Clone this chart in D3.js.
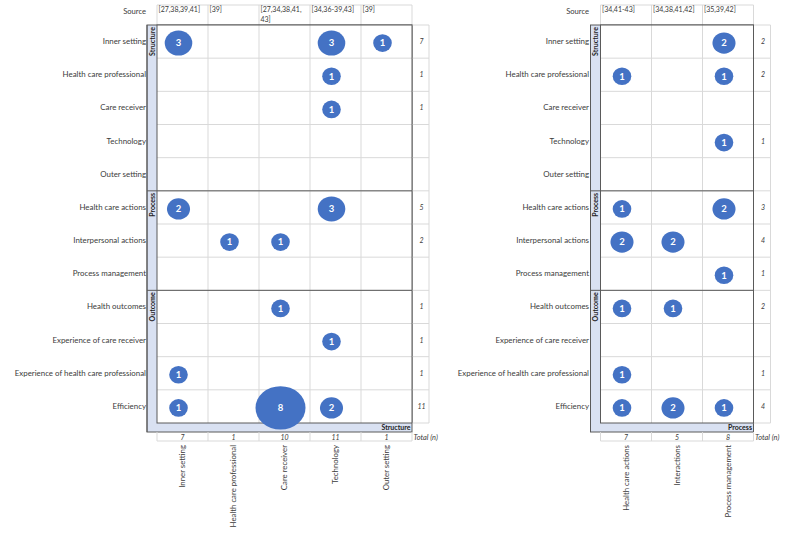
<!DOCTYPE html>
<html><head><meta charset="utf-8">
<script src="https://cdn.jsdelivr.net/npm/d3@7"></script>
<style>
html,body{margin:0;padding:0;background:#fff;}
svg{display:block;font-family:Lato, "Open Sans", sans-serif;}
</style></head>
<body>
<svg id="chart" width="789" height="534"></svg>
<script>
// ---------- DATA ----------
const rowLabels = ["Inner setting","Health care professional","Care receiver","Technology","Outer setting",
  "Health care actions","Interpersonal actions","Process management",
  "Health outcomes","Experience of care receiver","Experience of health care professional","Efficiency"];
const sections = [
  {name:"Structure", from:0, to:4},
  {name:"Process", from:5, to:7},
  {name:"Outcome", from:8, to:11}
];
// left panel (Structure)
const leftColumns = ["Inner setting","Health care professional","Care receiver","Technology","Outer setting"];
const leftSources = [["[27,38,39,41]"],["[39]"],["[27,34,38,41,","43]"],["[34,36-39,43]"],["[39]"]];
const leftValues = [ // [row, column, count]
  [0,0,3],[0,3,3],[0,4,1],
  [1,3,1],
  [2,3,1],
  [5,0,2],[5,3,3],
  [6,1,1],[6,2,1],
  [8,2,1],
  [9,3,1],
  [10,0,1],
  [11,0,1],[11,2,8],[11,3,2]
];
const leftRowTotals = ["7","1","1","","","5","2","","1","1","1","11"];
const leftColTotals = ["7","1","10","11","1"];
// right panel (Process)
const rightColumns = ["Health care actions","Interactions","Process management"];
const rightSources = [["[34,41-43]"],["[34,38,41,42]"],["[35,39,42]"]];
const rightValues = [
  [0,2,2],
  [1,0,1],[1,2,1],
  [3,2,1],
  [5,0,1],[5,2,2],
  [6,0,2],[6,1,2],
  [7,2,1],
  [8,0,1],[8,1,1],
  [10,0,1],
  [11,0,1],[11,1,2],[11,2,1]
];
const rightRowTotals = ["2","2","","1","","3","4","1","2","","1","4"];
const rightColTotals = ["7","5","8"];

// ---------- DRAW ----------
const svg = d3.select("#chart");
const TXT = "#3b3b3b", GRID = "#d9d9d9", FRAME = "#5a5a5a", STRIP = "#d9e1f2", BUB = "#4472c4";
const yTop = 25, yBot = 423;
const y = d3.scaleBand().domain(d3.range(rowLabels.length)).range([yTop, yBot]);
const rx = d3.scaleLinear().domain([1,8]).range([9.3,25]);
const ry = d3.scaleLinear().domain([1,8]).range([8.8,21.7]);

function panel(cfg){
  const g = svg.append("g");
  const x = d3.scaleBand().domain(d3.range(cfg.columns.length)).range([cfg.x0, cfg.x1]);
  const totX0 = cfg.x1, totX1 = cfg.x1 + 17;
  const stripX = cfg.x0 - 10;
  const frameBot = yBot + 9;

  // header grid
  const hdr = g.append("g");
  hdr.append("line").attr("x1",cfg.x0).attr("x2",cfg.x1).attr("y1",5).attr("y2",5).attr("stroke",GRID);
  x.domain().concat([cfg.columns.length]).forEach(i=>{
    const xx = i<cfg.columns.length ? x(i) : cfg.x1;
    hdr.append("line").attr("x1",xx).attr("x2",xx).attr("y1",5).attr("y2",yTop).attr("stroke",GRID);
  });
  hdr.append("text").attr("x",cfg.labelX).attr("y",14).attr("text-anchor","end")
    .attr("font-size",7.6).attr("fill",TXT).text("Source");
  cfg.sources.forEach((lines,i)=>{
    lines.forEach((s,k)=>{
      hdr.append("text").attr("x",x(i)+1.5).attr("y",12+k*10).attr("font-size",7)
        .attr("fill",TXT).text(s);
    });
  });

  // strip background (frame)
  g.append("rect").attr("x",stripX).attr("y",yTop).attr("width",cfg.x1-stripX).attr("height",frameBot-yTop)
    .attr("fill",STRIP).attr("stroke",FRAME).attr("stroke-width",1);
  g.append("rect").attr("x",cfg.x0).attr("y",yTop).attr("width",cfg.x1-cfg.x0).attr("height",yBot-yTop)
    .attr("fill","#fff");

  // grid inside
  y.domain().forEach(r=>{
    if(r>0) g.append("line").attr("x1",cfg.x0).attr("x2",totX1).attr("y1",y(r)).attr("y2",y(r)).attr("stroke",GRID);
  });
  g.append("line").attr("x1",cfg.x1).attr("x2",totX1).attr("y1",yTop).attr("y2",yTop).attr("stroke",GRID);
  g.append("line").attr("x1",cfg.x1).attr("x2",totX1).attr("y1",yBot).attr("y2",yBot).attr("stroke",GRID);
  g.append("line").attr("x1",totX1).attr("x2",totX1).attr("y1",yTop).attr("y2",yBot).attr("stroke",GRID);
  x.domain().forEach(i=>{
    if(i>0) g.append("line").attr("x1",x(i)).attr("x2",x(i)).attr("y1",yTop).attr("y2",yBot).attr("stroke",GRID);
  });

  // total row grid
  g.append("line").attr("x1",cfg.x0).attr("x2",cfg.x1).attr("y1",frameBot+9).attr("y2",frameBot+9).attr("stroke",GRID);
  x.domain().concat([cfg.columns.length]).forEach(i=>{
    const xx = i<cfg.columns.length ? x(i) : cfg.x1;
    g.append("line").attr("x1",xx).attr("x2",xx).attr("y1",frameBot).attr("y2",frameBot+9).attr("stroke",GRID);
  });

  // section dividers and labels
  sections.forEach((s,k)=>{
    if(k>0) g.append("line").attr("x1",stripX).attr("x2",cfg.x1).attr("y1",y(s.from)).attr("y2",y(s.from))
      .attr("stroke",FRAME).attr("stroke-width",1);
    g.append("text").attr("transform",`translate(${stripX+7.5},${y(s.from)+2}) rotate(-90)`)
      .attr("text-anchor","end").attr("font-size",7).attr("font-weight","bold").attr("fill","#222")
      .text(s.name);
  });
  // inner frame
  g.append("rect").attr("x",cfg.x0).attr("y",yTop).attr("width",cfg.x1-cfg.x0).attr("height",yBot-yTop)
    .attr("fill","none").attr("stroke",FRAME).attr("stroke-width",1);
  g.append("line").attr("x1",stripX).attr("x2",stripX).attr("y1",yTop).attr("y2",frameBot).attr("stroke",FRAME);

  // bottom strip label
  g.append("text").attr("x",cfg.x1-1.5).attr("y",frameBot-1.8).attr("text-anchor","end")
    .attr("font-size",7).attr("font-weight","bold").attr("fill","#222").text(cfg.stripLabel);

  // row labels
  rowLabels.forEach((t,r)=>{
    g.append("text").attr("x",cfg.labelX).attr("y",y(r)+y.bandwidth()/2+2.5).attr("text-anchor","end")
      .attr("font-size",7.9).attr("fill",TXT).text(t);
  });
  // row totals
  cfg.rowTotals.forEach((t,r)=>{
    g.append("text").attr("x",(totX0+totX1)/2+1).attr("y",y(r)+y.bandwidth()/2+2.5).attr("text-anchor","middle")
      .attr("font-size",7).attr("font-style","italic").attr("fill",TXT).text(t);
  });
  // column totals
  cfg.colTotals.forEach((t,i)=>{
    g.append("text").attr("x",x(i)+x.bandwidth()/2).attr("y",frameBot+7.5).attr("text-anchor","middle")
      .attr("font-size",7).attr("font-style","italic").attr("fill",TXT).text(t);
  });
  g.append("text").attr("x",cfg.x1+1.5).attr("y",frameBot+7.5).attr("font-size",7.4).attr("font-style","italic")
    .attr("fill",TXT).text("Total (n)");
  // column labels
  cfg.columns.forEach((t,i)=>{
    g.append("text").attr("transform",`translate(${x(i)+x.bandwidth()/2+2.5},${frameBot+13}) rotate(-90)`)
      .attr("text-anchor","end").attr("font-size",7.8).attr("fill",TXT).text(t);
  });

  // bubbles
  const b = g.selectAll("g.b").data(cfg.values).join("g").attr("class","b")
    .attr("transform",d=>`translate(${x(d[1])+x.bandwidth()/2-4},${y(d[0])+y.bandwidth()/2+1.5})`);
  b.append("ellipse").attr("rx",d=>rx(d[2])).attr("ry",d=>ry(d[2])).attr("fill",BUB);
  b.append("text").attr("text-anchor","middle").attr("y",3.3).attr("font-size",9.5).attr("font-weight","bold")
    .attr("fill","#fff").text(d=>d[2]);
}

panel({x0:157, x1:412, labelX:146, columns:leftColumns, sources:leftSources, values:leftValues,
  rowTotals:leftRowTotals, colTotals:leftColTotals, stripLabel:"Structure"});
panel({x0:600.5, x1:753.5, labelX:589, columns:rightColumns, sources:rightSources, values:rightValues,
  rowTotals:rightRowTotals, colTotals:rightColTotals, stripLabel:"Process"});
</script>
</body></html>
